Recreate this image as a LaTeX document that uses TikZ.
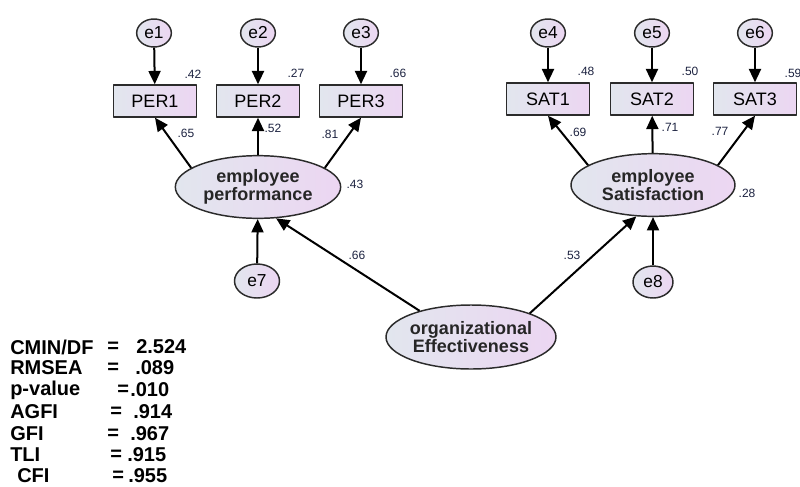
\documentclass[tikz,border=0pt]{standalone}
\usepackage{fontspec}
\setmainfont{Liberation Sans}
\usetikzlibrary{arrows.meta,shapes.geometric}
\definecolor{shl}{HTML}{E2E6EE}
\definecolor{shr}{HTML}{ECD6F2}
\definecolor{coefc}{HTML}{1C2240}
\definecolor{edgec}{HTML}{2B2B2B}
\begin{document}
\begin{tikzpicture}[x=0.75pt, y=-0.75pt, line join=round, >={Triangle[length=10pt,width=9pt]},
  obs/.style={draw=edgec, line width=1.1pt, left color=shl, right color=shr, minimum width=62pt, minimum height=24pt, inner sep=0pt, font=\fontsize{13.5}{13.5}\selectfont},
  err/.style={ellipse, draw=edgec, line width=1.1pt, left color=shl, right color=shr, minimum width=26pt, minimum height=21pt, inner sep=0pt, font=\fontsize{13}{13}\selectfont},
  lat/.style={ellipse, draw=edgec, line width=1.1pt, left color=shl, right color=shr, minimum width=124pt, minimum height=47pt, inner sep=0pt},
  lattext/.style={align=center, inner sep=0pt, font=\bfseries\fontsize{13.5}{13.5}\selectfont, text=black!85},
  coef/.style={font=\fontsize{9}{9}\selectfont, text=coefc},
  gof/.style={anchor=west, inner sep=0pt, font=\bfseries\fontsize{15}{15}\selectfont},
  conn/.style={->, line width=1.5pt}]
\useasboundingbox (0,0) rectangle (800,486);
% error terms
\node (e1) at (154,33)[err] {e1}; \node (e2) at (258,33)[err] {e2}; \node (e3) at (361,33)[err] {e3};
\node (e4) at (548,33)[err] {e4}; \node (e5) at (652,33)[err] {e5}; \node (e6) at (755,33)[err] {e6};
\node (e7) at (257,281)[err, minimum width=33.75pt, minimum height=25.5pt] {e7};
\node (e8) at (653,282)[err, minimum width=30pt, minimum height=24pt] {e8};
% indicators
\node (per1) at (155,101)[obs] {PER1}; \node (per2) at (258,101)[obs] {PER2}; \node (per3) at (361,101)[obs] {PER3};
\node (sat1) at (548,99)[obs] {SAT1}; \node (sat2) at (652,99)[obs] {SAT2}; \node (sat3) at (755,99)[obs] {SAT3};
% latent variables
\node (perf) at (258,187)[lat] {}; \node (perft) at (perf)[lattext] {employee\\performance};
\node (sat) at (653,185)[lat, minimum width=123pt] {}; \node (satt) at (sat)[lattext] {employee\\Satisfaction};
\node (oe) at (471,337)[lat, minimum width=127.5pt, minimum height=48pt] {}; \node (oet) at (oe)[lattext] {organizational\\Effectiveness};
% paths
\draw[conn] (e1)--(per1); \draw[conn] (e2)--(per2); \draw[conn] (e3)--(per3);
\draw[conn] (e4)--(sat1); \draw[conn] (e5)--(sat2); \draw[conn] (e6)--(sat3);
\draw[conn] (perf.164)--(per1.south); \draw[conn] (perf)--(per2); \draw[conn] (perf.16)--(per3.south);
\draw[conn] (sat.163)--(sat1.south); \draw[conn] (sat)--(sat2); \draw[conn] (sat.17)--(sat3.south);
\draw[conn] (oe.153)--(perf.-60); \draw[conn] (oe.22)--(sat.-118);
\draw[conn] (e7)--(perf); \draw[conn] (e8)--(sat);
% estimates
\node (r1) at (193,74)[coef] {.42}; \node (r2) at (296,73)[coef] {.27}; \node (r3) at (398,73)[coef] {.66};
\node (r4) at (586,71)[coef] {.48}; \node (r5) at (690,71)[coef] {.50}; \node (r6) at (793,73)[coef] {.59};
\node (l1) at (186,133)[coef] {.65}; \node (l2) at (273,128)[coef] {.52}; \node (l3) at (330,134)[coef] {.81};
\node (l4) at (578,132)[coef] {.69}; \node (l5) at (670,127)[coef] {.71}; \node (l6) at (720,131)[coef] {.77};
\node (rperf) at (355,184)[coef] {.43}; \node (rsat) at (747,193)[coef] {.28};
\node (bperf) at (357,255)[coef] {.66}; \node (bsat) at (572,255)[coef] {.53};
% fit indices
\node (cmin) at (10,347)[gof] {CMIN/DF}; \node (cmineq) at (107,347)[gof] {=}; \node (cminv) at (136,347)[gof] {2.524};
\node (rmsea) at (10,368)[gof] {RMSEA}; \node (rmseaeq) at (107,368)[gof] {=}; \node (rmseav) at (135,368)[gof] {.089};
\node (pval) at (10,390)[gof] {p-value}; \node (pvaleq) at (117,390)[gof] {=}; \node (pvalv) at (130,390)[gof] {.010};
\node (agfi) at (10,412)[gof] {AGFI}; \node (agfieq) at (110,412)[gof] {=}; \node (agfiv) at (133,412)[gof] {.914};
\node (gfi) at (10,434)[gof] {GFI}; \node (gfieq) at (107,434)[gof] {=}; \node (gfiv) at (130,434)[gof] {.967};
\node (tli) at (10,455)[gof] {TLI}; \node (tlieq) at (110,455)[gof] {=}; \node (tliv) at (127,455)[gof] {.915};
\node (cfi) at (17,476)[gof] {CFI}; \node (cfieq) at (112,476)[gof] {=}; \node (cfiv) at (128,476)[gof] {.955};
\end{tikzpicture}
\end{document}
